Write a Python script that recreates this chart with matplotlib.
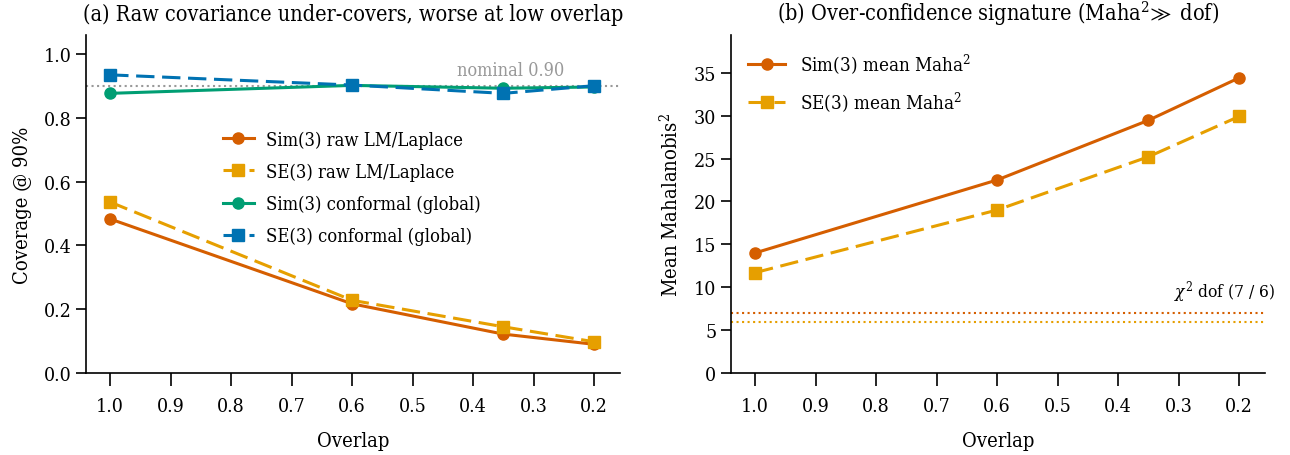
import matplotlib
matplotlib.use('Agg')
import matplotlib.pyplot as plt

plt.rcParams['font.family'] = ['DejaVu Serif']
plt.rcParams['font.stretch'] = 'condensed'
plt.rcParams['mathtext.fontset'] = 'dejavuserif'
plt.rcParams['font.size'] = 14

# data
overlap = [1.0, 0.6, 0.35, 0.2]
xticks = [1.0, 0.9, 0.8, 0.7, 0.6, 0.5, 0.4, 0.3, 0.2]

sim3_raw = [0.483, 0.217, 0.122, 0.090]
se3_raw = [0.536, 0.228, 0.145, 0.098]
sim3_conf = [0.877, 0.902, 0.893, 0.897]
se3_conf = [0.935, 0.903, 0.877, 0.901]
nominal = 0.90

sim3_maha = [14.0, 22.5, 29.45, 34.4]
se3_maha = [11.7, 19.0, 25.2, 29.9]
dof_sim3 = 7
dof_se3 = 6

C_SIM = '#D55E00'
C_SE = '#E69F00'
C_SIMC = '#009E73'
C_SEC = '#0072B2'
DASH = (6, 2.5)

fig = plt.figure(figsize=(12.9, 4.56), dpi=100)
ax1 = fig.add_axes([86 / 1290, 82 / 456, 534 / 1290, 338 / 456])
ax2 = fig.add_axes([731 / 1290, 82 / 456, 534 / 1290, 338 / 456])

# --- (a) coverage ---
ax1.axhline(nominal, color='#999999', linestyle=':', linewidth=1.5, zorder=1)
ax1.text(0.25, nominal + 0.022, 'nominal 0.90', color='#999999',
         ha='right', va='bottom', fontsize=13)

ax1.plot(overlap, sim3_raw, color=C_SIM, marker='o', markersize=8,
         linewidth=2.2, label='Sim(3) raw LM/Laplace')
ax1.plot(overlap, se3_raw, color=C_SE, marker='s', markersize=8,
         linewidth=2.2, dashes=DASH, label='SE(3) raw LM/Laplace')
ax1.plot(overlap, sim3_conf, color=C_SIMC, marker='o', markersize=8,
         linewidth=2.2, label='Sim(3) conformal (global)')
ax1.plot(overlap, se3_conf, color=C_SEC, marker='s', markersize=8,
         linewidth=2.2, dashes=DASH, label='SE(3) conformal (global)')

ax1.set_xlim(1.04, 0.157)
ax1.set_ylim(0, 1.06)
ax1.set_yticks([0.0, 0.2, 0.4, 0.6, 0.8, 1.0])
ax1.set_ylabel('Coverage @ 90%', fontsize=14.5, labelpad=8)
ax1.set_title('(a) Raw covariance under-covers, worse at low overlap',
              fontsize=15.5, pad=11)
ax1.legend(loc='center left', bbox_to_anchor=(0.225, 0.548), frameon=False,
           fontsize=13.2, handlelength=1.7, handletextpad=0.65,
           labelspacing=0.76)

# --- (b) Mahalanobis ---
ax2.axhline(dof_sim3, color=C_SIM, linestyle=':', linewidth=1.5, zorder=1)
ax2.axhline(dof_se3, color=C_SE, linestyle=':', linewidth=1.5, zorder=1)
ax2.text(1.02, 8.1, r'$\chi^2$ dof (7 / 6)', transform=ax2.get_yaxis_transform(),
         ha='right', va='bottom', fontsize=12.5)

ax2.plot(overlap, sim3_maha, color=C_SIM, marker='o', markersize=8,
         linewidth=2.2, label=r'Sim(3) mean Maha$^2$')
ax2.plot(overlap, se3_maha, color=C_SE, marker='s', markersize=8,
         linewidth=2.2, dashes=DASH, label=r'SE(3) mean Maha$^2$')

ax2.set_xlim(1.04, 0.157)
ax2.set_ylim(0, 39.4)
ax2.set_yticks([0, 5, 10, 15, 20, 25, 30, 35])
ax2.set_ylabel(r'Mean Mahalanobis$^2$', fontsize=14.5, labelpad=8)
ax2.set_title(r'(b) Over-confidence signature (Maha$^2\!\gg$ dof)',
              fontsize=15.5, pad=11)
ax2.legend(loc='upper left', frameon=False, fontsize=13.5, handlelength=2.0,
           labelspacing=0.75)

for ax in (ax1, ax2):
    ax.set_xticks(xticks)
    ax.set_xticklabels([f'{t:.1f}' for t in xticks])
    ax.set_xlabel('Overlap', fontsize=14.5, labelpad=12)
    ax.spines['top'].set_visible(False)
    ax.spines['right'].set_visible(False)
    ax.tick_params(axis='x', length=9, width=1.2, pad=8)
    ax.tick_params(axis='y', length=7, width=1.2)
    for s in ('left', 'bottom'):
        ax.spines[s].set_linewidth(1.2)

fig.savefig('out.png', dpi=100)
